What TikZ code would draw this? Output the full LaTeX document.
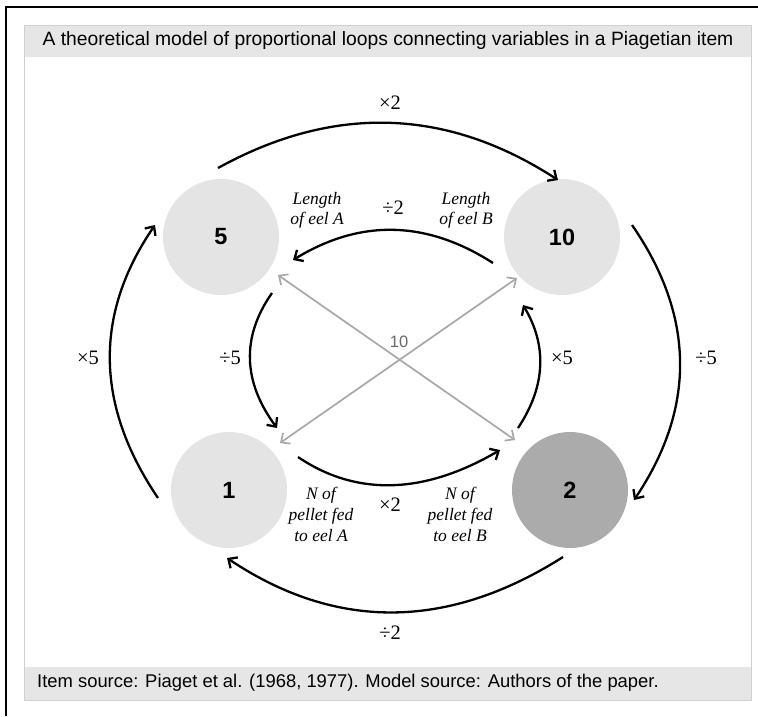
\documentclass[tikz,border=0pt]{standalone}
\usepackage{fontspec}
\setmainfont{Liberation Serif}
\newfontfamily\sansfam{Liberation Sans}
\usetikzlibrary{arrows.meta}
\definecolor{lightc}{HTML}{E4E4E4}
\definecolor{darkc}{HTML}{ABABAB}
\definecolor{bandc}{HTML}{E6E6E6}
\definecolor{panelc}{HTML}{CFCFCF}
\definecolor{crossc}{HTML}{A8A8A8}
\definecolor{tenc}{HTML}{6A6A6A}
\tikzset{
  val/.style={circle, minimum size=116pt, inner sep=0pt, font=\sansfam\bfseries\fontsize{23.5}{26}\selectfont},
  op/.style={font=\fontsize{20.5}{23}\selectfont, inner sep=0pt},
  lbl/.style={font=\itshape\fontsize{17.5}{20}\selectfont, align=center, inner sep=0pt},
  lbln/.style={font=\itshape\fontsize{17.5}{21}\selectfont, align=center, inner sep=0pt},
  flow/.style={line width=2.3pt, black, -{Straight Barb[length=7pt,width=13pt]}},
  cross/.style={line width=1.7pt, crossc, {Straight Barb[length=7pt,width=13pt]}-{Straight Barb[length=7pt,width=13pt]}},
}
\begin{document}
\begin{tikzpicture}[x=1pt,y=-1pt]
\useasboundingbox (0,0) rectangle (758,716);
% outer frame
\draw[line width=2.2pt] (6,716) -- (6,7) -- (758,7);
% panel
\fill[white] (24,25) rectangle (751,700);
\fill[bandc] (24,25) rectangle (751,57);
\fill[bandc] (24,667) rectangle (751,700);
\draw[panelc, line width=1pt] (24,25) rectangle (751,700);
\node[font=\sansfam\fontsize{19.3}{22}\selectfont, inner sep=0pt] (title) at (388,41) {A theoretical model of proportional loops connecting variables in a Piagetian item};
\node[font=\sansfam\fontsize{18.4}{21}\selectfont, inner sep=0pt, anchor=west] (foot) at (37,683) {Item source: Piaget et al. (1968, 1977). Model source: Authors of the paper.};
% circles
\node[val, fill=lightc] (c5) at (221,237) {5};
\node[val, fill=lightc] (c10) at (562,237) {10};
\node[val, fill=lightc] (c1) at (229,490) {1};
\node[val, fill=darkc] (c2) at (570,490) {2};
% endpoints
\coordinate (tos) at (218,168); \coordinate (toe) at (558,180);
\coordinate (ros) at (632,225); \coordinate (roe) at (634,500);
\coordinate (bos) at (563,557); \coordinate (boe) at (227,558);
\coordinate (los) at (158,498); \coordinate (loe) at (155,225);
\coordinate (tis) at (493,263); \coordinate (tie) at (293,260);
\coordinate (lis) at (272,293); \coordinate (lie) at (277,428);
\coordinate (ris) at (518,428); \coordinate (rie) at (523,305);
\coordinate (bis) at (298,457); \coordinate (bie) at (500,450);
\coordinate (g5) at (278,275); \coordinate (g2) at (515,440);
\coordinate (g10) at (517,278); \coordinate (g1) at (280,443);
% gray cross
\draw[cross] (g5) -- (g2);
\draw[cross] (g10) -- (g1);
\node[font=\sansfam\fontsize{16.5}{19}\selectfont, text=tenc, inner sep=0pt] (ten) at (399,342) {10};
% outer loop
\draw[flow] (tos) .. controls (334,104) and (447,108) .. (toe);
\draw[flow] (ros) .. controls (695,316) and (696,408) .. (roe);
\draw[flow] (bos) .. controls (448,630) and (336,631) .. (boe);
\draw[flow] (los) .. controls (95,405) and (94,314) .. (loe);
% inner loop
\draw[flow] (tis) .. controls (426,220) and (360,219) .. (tie);
\draw[flow] (lis) .. controls (241,337) and (243,382) .. (lie);
\draw[flow] (ris) .. controls (546,386) and (547,345) .. (rie);
\draw[flow] (bis) .. controls (357,497) and (425,494) .. (bie);
% operator labels
\node[op] (o1) at (390,103) {×2};
\node[op] (o2) at (706,358) {÷5};
\node[op] (o3) at (390,633) {÷2};
\node[op] (o4) at (88,358) {×5};
\node[op] (o5) at (393,208) {÷2};
\node[op] (o6) at (230,358) {÷5};
\node[op] (o7) at (562,358) {×5};
\node[op] (o8) at (390,505) {×2};
% variable labels
\node[lbl] (la) at (317,210) {Length\\of eel A};
\node[lbl] (lb) at (466,210) {Length\\of eel B};
\node[lbln] (na) at (321,514) {N of\\pellet fed\\to eel A};
\node[lbln] (nb) at (460,514) {N of\\pellet fed\\to eel B};
\end{tikzpicture}
\end{document}
